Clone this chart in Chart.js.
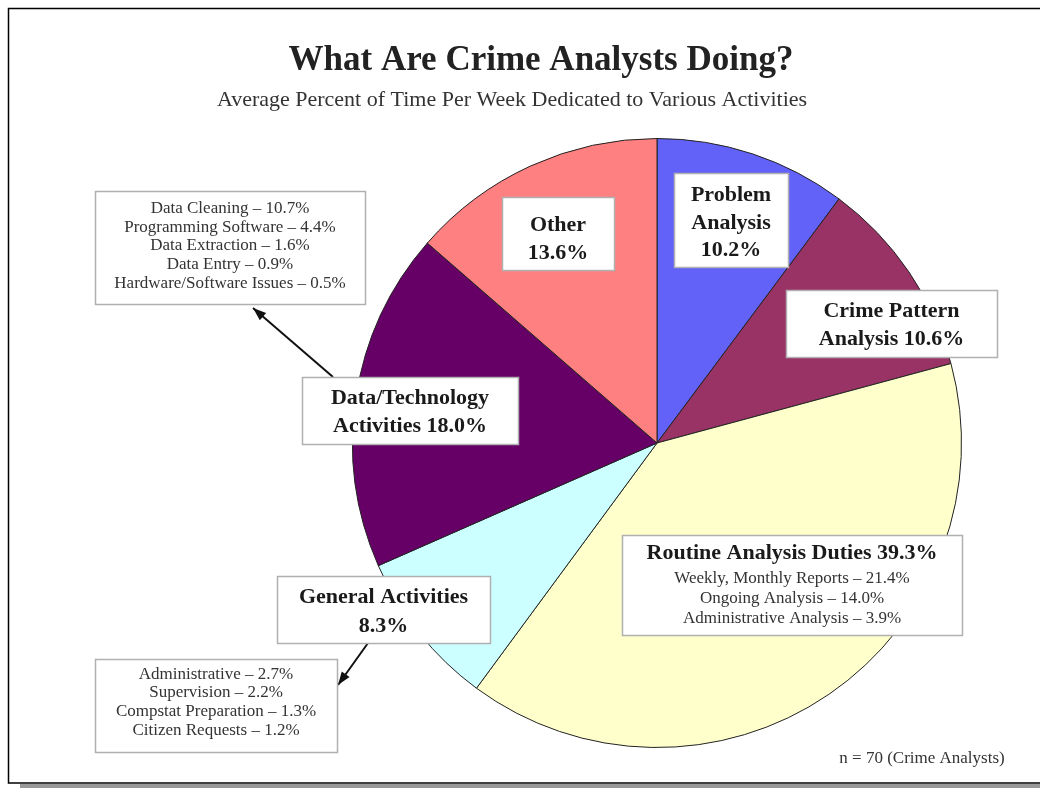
<!DOCTYPE html>
<html>
<head>
<meta charset="utf-8">
<script src="https://cdn.jsdelivr.net/npm/chart.js@4/dist/chart.umd.min.js"></script>
<style>
  body { margin: 0; background: #fff; }
  #wrap { width: 1040px; height: 788px; }
</style>
</head>
<body>
<div id="wrap"><canvas id="pie" width="1040" height="788"></canvas></div>
<script>
// slices, clockwise from 12 o'clock
const categories = ["Problem Analysis", "Crime Pattern Analysis", "Routine Analysis Duties",
                    "General Activities", "Data/Technology Activities", "Other"];
const shares = [10.2, 10.6, 39.3, 8.3, 18.0, 13.6];
const sliceColors = ["#6262F8", "#993366", "#FFFFCC", "#CCFFFF", "#660066", "#FF8080"];

// breakdowns
const routineItems = ["Weekly, Monthly Reports", "Ongoing Analysis", "Administrative Analysis"];
const routineValues = [21.4, 14.0, 3.9];
const dataTechItems = ["Data Cleaning", "Programming Software", "Data Extraction", "Data Entry", "Hardware/Software Issues"];
const dataTechValues = [10.7, 4.4, 1.6, 0.9, 0.5];
const generalItems = ["Administrative", "Supervision", "Compstat Preparation", "Citizen Requests"];
const generalValues = [2.7, 2.2, 1.3, 1.2];

const titleText = "What Are Crime Analysts Doing?";
const subtitleText = "Average Percent of Time Per Week Dedicated to Various Activities";
const noteText = "n = 70 (Crime Analysts)";

const pct = v => v.toFixed(1) + "%";
const dashLines = (items, vals) => items.map((s, i) => s + " \u2013 " + pct(vals[i]));

// label boxes: [x, y, w, h], line centres
const boxes = [
  { r: [674, 173, 114, 94], bold: ["Problem", "Analysis", pct(shares[0])], y: [195, 223, 250] },
  { r: [786, 290, 211, 67], bold: ["Crime Pattern", "Analysis " + pct(shares[1])], y: [311, 339] },
  { r: [622, 535, 340, 100], bold: ["Routine Analysis Duties " + pct(shares[2])], y: [553],
    small: dashLines(routineItems, routineValues), sy: [579, 599, 619] },
  { r: [277, 576, 213, 67], bold: ["General Activities", pct(shares[3])], y: [597, 626] },
  { r: [302, 377, 216, 67], bold: ["Data/Technology", "Activities " + pct(shares[4])], y: [398, 426] },
  { r: [502, 197, 112, 73], bold: ["Other", pct(shares[5])], y: [225, 253] },
  { r: [95, 191, 270, 113], small: dashLines(dataTechItems, dataTechValues), sy: [209, 228, 246, 265, 284] },
  { r: [95, 659, 242, 93], small: dashLines(generalItems, generalValues), sy: [675, 693, 712, 731] }
];
const arrows = [[333, 377, 253, 308], [368, 643, 338, 685]];

function arrow(ctx, x1, y1, x2, y2) {
  ctx.strokeStyle = "#111"; ctx.fillStyle = "#111"; ctx.lineWidth = 2;
  ctx.beginPath(); ctx.moveTo(x1, y1); ctx.lineTo(x2, y2); ctx.stroke();
  const a = Math.atan2(y2 - y1, x2 - x1);
  ctx.beginPath();
  ctx.moveTo(x2, y2);
  ctx.lineTo(x2 - 14 * Math.cos(a - 0.35), y2 - 14 * Math.sin(a - 0.35));
  ctx.lineTo(x2 - 14 * Math.cos(a + 0.35), y2 - 14 * Math.sin(a + 0.35));
  ctx.closePath(); ctx.fill();
}

const decor = {
  id: "decor",
  afterDraw(chart) {
    const ctx = chart.ctx;
    ctx.save();
    // frame
    ctx.fillStyle = "#999"; ctx.fillRect(20, 784, 1020, 4);
    ctx.strokeStyle = "#000"; ctx.lineWidth = 1.5;
    ctx.beginPath(); ctx.moveTo(1040, 8.5); ctx.lineTo(8.5, 8.5); ctx.lineTo(8.5, 783); ctx.lineTo(1040, 783); ctx.stroke();

    ctx.textAlign = "center"; ctx.textBaseline = "middle"; ctx.fillStyle = "#222";
    ctx.font = "bold 35px 'Liberation Serif'";
    ctx.fillText(titleText, 541, 61);
    ctx.font = "22px 'Liberation Serif'"; ctx.fillStyle = "#333";
    ctx.fillText(subtitleText, 512, 100);

    arrows.forEach(a => arrow(ctx, ...a));

    boxes.forEach(b => {
      const [x, y, w, h] = b.r;
      ctx.fillStyle = "#fff"; ctx.fillRect(x, y, w, h);
      ctx.strokeStyle = "#b0b0b0"; ctx.lineWidth = 1.5; ctx.strokeRect(x + 0.5, y + 0.5, w, h);
      const cx = x + w / 2;
      ctx.fillStyle = "#1a1a1a";
      ctx.font = "bold 22px 'Liberation Serif'";
      (b.bold || []).forEach((t, i) => ctx.fillText(t, cx, b.y[i]));
      ctx.fillStyle = "#333";
      ctx.font = "17px 'Liberation Serif'";
      (b.small || []).forEach((t, i) => ctx.fillText(t, cx, b.sy[i]));
    });

    ctx.font = "17px 'Liberation Serif'"; ctx.fillStyle = "#333";
    ctx.fillText(noteText, 922, 759);
    ctx.restore();
  }
};

new Chart(document.getElementById("pie"), {
  type: "pie",
  data: {
    labels: categories,
    datasets: [{
      data: shares,
      backgroundColor: sliceColors,
      borderColor: "#222",
      borderWidth: 1
    }]
  },
  options: {
    responsive: false,
    animation: false,
    layout: { padding: { left: 352, right: 78, top: 138, bottom: 40 } },
    plugins: { legend: { display: false }, tooltip: { enabled: false } }
  },
  plugins: [decor]
});
</script>
</body>
</html>
